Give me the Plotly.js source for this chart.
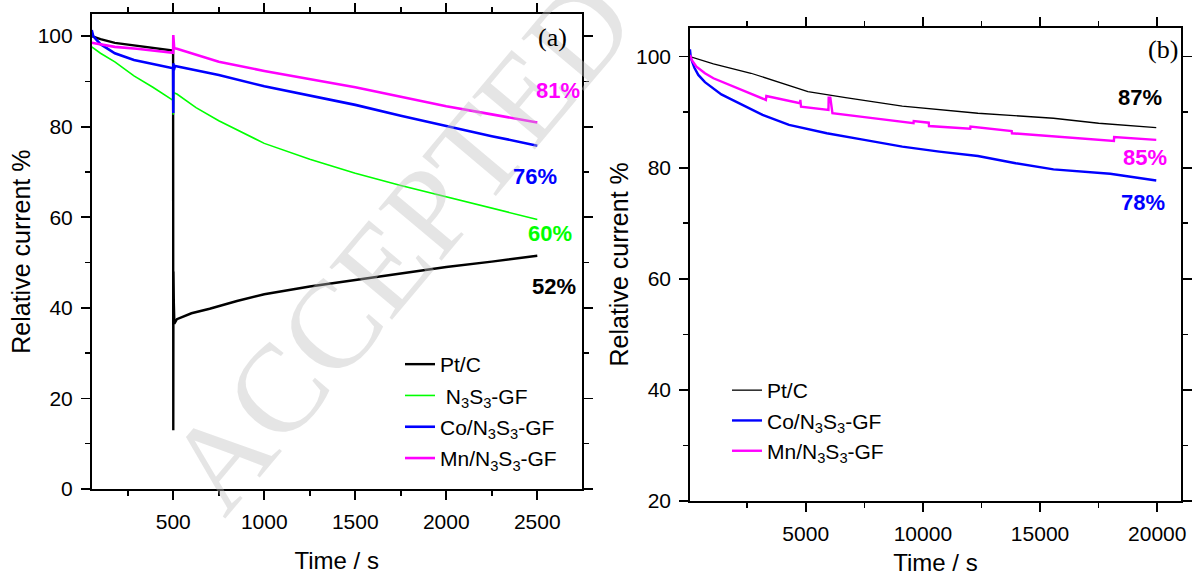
<!DOCTYPE html>
<html>
<head>
<meta charset="utf-8">
<script src="https://cdn.plot.ly/plotly-3.0.1.min.js"></script>
<style>html,body{margin:0;padding:0;background:#fff;}#chart{width:1193px;height:576px;}</style>
</head>
<body>
<div id="chart"></div>
<script>
// ---------- Panel (a) data ----------
const ptcTimeA = [52, 100, 179, 300, 388, 450, 499, 500, 501, 503, 506, 520, 600, 700, 850, 1000, 1250, 1500, 1750, 2000, 2250, 2500];
const ptcValA  = [100, 99.3, 98.5, 97.8, 97.3, 97.0, 96.8, 13, 48, 41, 36.5, 37.5, 38.8, 39.8, 41.5, 43.0, 44.7, 46.1, 47.6, 49.0, 50.2, 51.5];

const n3s3TimeA = [52, 100, 179, 284, 388, 493, 499, 500, 502, 520, 625, 750, 1000, 1250, 1500, 1750, 2000, 2250, 2500];
const n3s3ValA  = [97.6, 96.2, 94.3, 91.2, 88.7, 86.1, 85.8, 82.6, 87.5, 87.2, 84.2, 81.3, 76.3, 72.8, 69.7, 67.0, 64.5, 62.0, 59.5];

const coTimeA = [52, 60, 100, 179, 284, 388, 493, 499, 500, 501, 503, 510, 750, 1000, 1250, 1500, 1750, 2000, 2250, 2500];
const coValA  = [101.3, 100, 98.2, 96.2, 94.7, 93.8, 92.9, 92.9, 83, 94, 92.5, 93.4, 91.4, 88.9, 86.8, 84.8, 82.4, 80.1, 77.9, 75.8];

const mnTimeA = [52, 100, 179, 300, 388, 450, 499, 500, 501, 505, 520, 750, 1000, 1250, 1500, 1750, 2000, 2250, 2500];
const mnValA  = [98.5, 98.1, 97.6, 97.2, 96.8, 96.5, 96.3, 100.2, 97.6, 97.3, 97.2, 94.3, 92.3, 90.5, 88.7, 86.6, 84.5, 82.7, 80.9];

// ---------- Panel (b) data ----------
const ptcTimeB = [60, 1062, 2666, 4000, 5094, 6702, 9121, 12347, 15572, 17500, 19957];
const ptcValB  = [100, 98.7, 97.0, 95.2, 93.7, 92.6, 91.1, 89.8, 88.9, 88.0, 87.2];

const coTimeB = [60, 100, 250, 417, 700, 1062, 1400, 1869, 2500, 3157, 4288, 5900, 7500, 9121, 10700, 12347, 13959, 15572, 17991, 19957];
const coValB  = [101.3, 99.7, 98.0, 96.7, 95.4, 94.3, 93.2, 92.2, 90.9, 89.5, 87.7, 86.2, 85.0, 83.8, 82.9, 82.1, 80.8, 79.7, 78.9, 77.7];

const mnTimeB = [60, 150, 338, 700, 1062, 1869, 2600, 3300, 3320, 4760, 4770, 4790, 4800, 5970, 5980, 6050, 6140, 7508, 9600, 9610, 10250, 10260, 12020, 12030, 13790, 13800, 15572, 18150, 18160, 19957];
const mnValB  = [100.3, 99.3, 98.2, 97.0, 96.1, 94.7, 93.3, 92.2, 92.9, 91.6, 92.2, 91.6, 91.0, 90.4, 92.6, 92.6, 89.8, 89.1, 88.0, 88.4, 88.1, 87.5, 87.0, 87.4, 86.6, 86.2, 85.6, 84.8, 85.5, 85.0];

// ---------- Labels ----------
const seriesNames = ['Pt/C', ' N<sub>3</sub>S<sub>3</sub>-GF', 'Co/N<sub>3</sub>S<sub>3</sub>-GF', 'Mn/N<sub>3</sub>S<sub>3</sub>-GF'];
const colors = ['#000000', '#00ff00', '#0000ff', '#ff00ff'];
const endLabelsA = ['52%', '60%', '76%', '81%'];
const endLabelPosA = [[2592, 44.6], [2570, 56.5], [2487, 68.9], [2614, 88.0]];
const endLabelsB = ['87%', '78%', '85%'];
const endLabelPosB = [[19260, 92.7], [19400, 73.7], [19480, 81.8]];
const watermark = 'ACCEPTED';

const FONT = 'Arial, "Liberation Sans", sans-serif';
const SERIF = '"Times New Roman", "Liberation Serif", serif';

const traces = [
  {x: ptcTimeA, y: ptcValA, name: seriesNames[0], line: {color: colors[0], width: 2.4}, legend: 'legend', legendgroup: 'a0'},
  {x: n3s3TimeA, y: n3s3ValA, name: seriesNames[1], line: {color: colors[1], width: 1.6}, legend: 'legend', legendgroup: 'a1'},
  {x: coTimeA, y: coValA, name: seriesNames[2], line: {color: colors[2], width: 2.6}, legend: 'legend', legendgroup: 'a2'},
  {x: mnTimeA, y: mnValA, name: seriesNames[3], line: {color: colors[3], width: 2.6}, legend: 'legend', legendgroup: 'a3'},
  {x: ptcTimeB, y: ptcValB, name: seriesNames[0], xaxis: 'x2', yaxis: 'y2', line: {color: colors[0], width: 1.3}, legend: 'legend2', legendgroup: 'b0'},
  {x: coTimeB, y: coValB, name: seriesNames[2], xaxis: 'x2', yaxis: 'y2', line: {color: colors[2], width: 2.4}, legend: 'legend2', legendgroup: 'b2'},
  {x: mnTimeB, y: mnValB, name: seriesNames[3], xaxis: 'x2', yaxis: 'y2', line: {color: colors[3], width: 2.4}, legend: 'legend2', legendgroup: 'b3'}
].map(t => Object.assign({type: 'scatter', mode: 'lines', xaxis: 'x', yaxis: 'y'}, t));

function axis(extra) {
  return Object.assign({
    showline: true, linecolor: '#000', linewidth: 1.8, mirror: 'ticks',
    ticks: 'outside', ticklen: 9, tickwidth: 1.8, tickcolor: '#000',
    showgrid: false, zeroline: false, automargin: false,
    tickformat: 'd',
    tickfont: {family: FONT, size: 21, color: '#000'},
    ticklabelstandoff: 4
  }, extra);
}

const annA = endLabelsA.map((t, i) => ({
  xref: 'x', yref: 'y', x: endLabelPosA[i][0], y: endLabelPosA[i][1], text: '<b>' + t + '</b>',
  showarrow: false, font: {family: FONT, size: 22, color: colors[i]}
}));
const colorsB = [colors[0], colors[2], colors[3]];
const annB = endLabelsB.map((t, i) => ({
  xref: 'x2', yref: 'y2', x: endLabelPosB[i][0], y: endLabelPosB[i][1], text: '<b>' + t + '</b>',
  showarrow: false, font: {family: FONT, size: 22, color: colorsB[i]}
}));

const layout = {
  width: 1193, height: 576,
  margin: {l: 0, r: 0, t: 0, b: 0},
  paper_bgcolor: '#fff', plot_bgcolor: '#fff',
  font: {family: FONT, color: '#000'},
  xaxis: axis({domain: [0.0769, 0.4876], range: [52, 2744], dtick: 500, tick0: 0, anchor: 'y',
    minor: {ticks: 'outside', ticklen: 5, tickwidth: 1.5, dtick: 250, tick0: 0, tickcolor: '#000'},
    title: {text: 'Time / s', font: {family: FONT, size: 24}, standoff: 20}}),
  yaxis: axis({domain: [0.151, 0.9752], range: [0, 104.8], dtick: 20, tick0: 0, anchor: 'x',
    minor: {ticks: 'outside', ticklen: 5, tickwidth: 1.5, dtick: 10, tick0: 0, tickcolor: '#000'},
    title: {text: 'Relative current %', font: {family: FONT, size: 25}, standoff: 0}}),
  xaxis2: axis({domain: [0.5784, 0.9899], range: [64, 21011], dtick: 5000, tick0: 0, anchor: 'y2',
    minor: {ticks: 'outside', ticklen: 5, tickwidth: 1.5, dtick: 2500, tick0: 0, tickcolor: '#000'},
    title: {text: 'Time / s', font: {family: FONT, size: 24}, standoff: 20}}),
  yaxis2: axis({domain: [0.1302, 0.9519], range: [20, 105.2], dtick: 20, tick0: 0, anchor: 'x2',
    minor: {ticks: 'outside', ticklen: 5, tickwidth: 1.5, dtick: 10, tick0: 0, tickcolor: '#000'},
    title: {text: 'Relative current %', font: {family: FONT, size: 25}, standoff: 0}}),
  legend: {x: 400 / 1193, y: 1 - 344 / 576, xanchor: 'left', yanchor: 'top', bgcolor: 'rgba(0,0,0,0)',
    font: {family: FONT, size: 21, color: '#000'}, traceorder: 'grouped', tracegroupgap: 1, borderwidth: 0},
  legend2: {x: 727 / 1193, y: 1 - 370 / 576, xanchor: 'left', yanchor: 'top', bgcolor: 'rgba(0,0,0,0)',
    font: {family: FONT, size: 21, color: '#000'}, traceorder: 'grouped', tracegroupgap: 0, borderwidth: 0},
  annotations: [
    {xref: 'paper', yref: 'paper', x: 400 / 1193, y: 1 - 245 / 576, xanchor: 'center', yanchor: 'middle',
     text: watermark, showarrow: false, textangle: -50,
     font: {family: SERIF, size: 125, color: 'rgba(190,190,190,0.4)'}},
    {xref: 'x', yref: 'y', x: 2582, y: 99.6, text: '(a)', showarrow: false,
     font: {family: SERIF, size: 26, color: '#000'}},
    {xref: 'x2', yref: 'y2', x: 20230, y: 101.2, text: '(b)', showarrow: false,
     font: {family: SERIF, size: 26, color: '#000'}}
  ].concat(annA, annB),
  showlegend: true
};

Plotly.newPlot('chart', traces, layout, {displayModeBar: false, staticPlot: true});
</script>
</body>
</html>
